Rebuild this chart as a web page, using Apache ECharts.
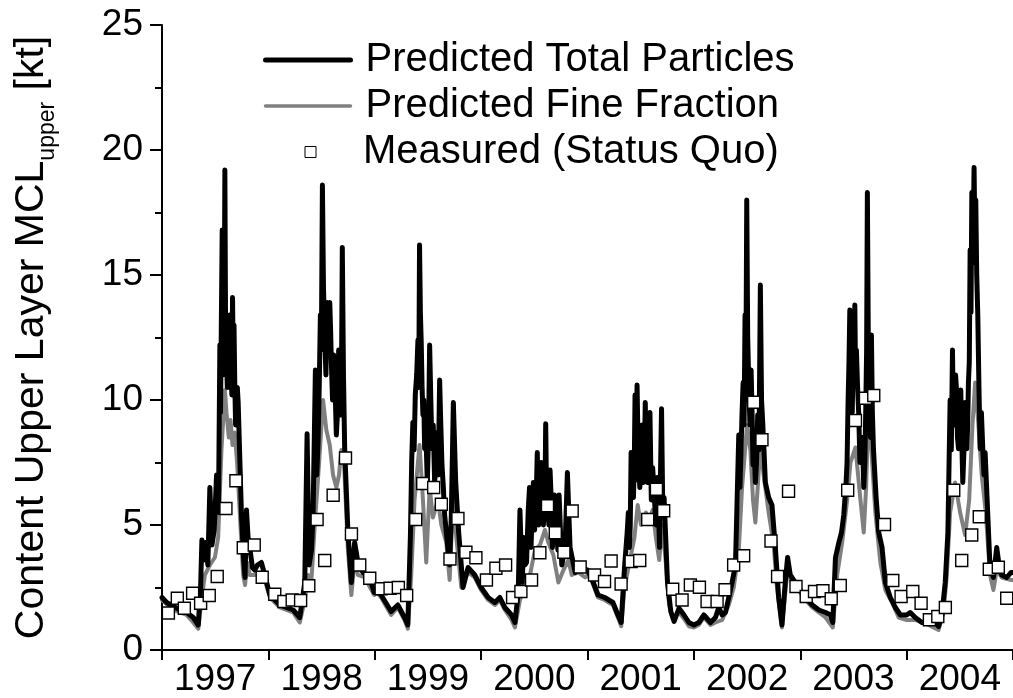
<!DOCTYPE html>
<html>
<head>
<meta charset="utf-8">
<script src="https://cdn.jsdelivr.net/npm/echarts@6/dist/echarts.min.js"></script>
<style>
html,body{margin:0;padding:0;background:#fff;}
#chart{width:1013px;height:698px;}
</style>
</head>
<body>
<div id="chart"></div>
<script>
// ---- DATA ----
var years = ['1997','1998','1999','2000','2001','2002','2003','2004'];

// Predicted Total Particles: time (decimal year) and value [kt]
var totalT = [
 1997.00,1997.044,1997.106,1997.169,1997.231,1997.294,1997.341,1997.363,1997.375,1997.394,1997.413,1997.431,1997.45,1997.469,1997.491,1997.513,1997.531,1997.544,1997.566,1997.578,1997.591,1997.606,1997.622,1997.638,1997.65,1997.663,1997.684,1997.70,1997.716,1997.747,1997.769,1997.781,1997.794,1997.809,1997.825,1997.85,1997.872,1997.897,1997.934,1997.966,
 1998.014,1998.108,1998.233,1998.295,1998.342,1998.364,1998.383,1998.405,1998.42,1998.442,1998.467,1998.489,1998.508,1998.53,1998.552,1998.577,1998.592,1998.614,1998.639,1998.661,1998.677,1998.695,1998.717,1998.748,1998.78,1998.811,1998.842,1998.889,1998.952,1998.995,
 1999.02,1999.06,1999.154,1999.217,1999.28,1999.311,1999.336,1999.358,1999.381,1999.406,1999.421,1999.437,1999.453,1999.469,1999.494,1999.516,1999.538,1999.563,1999.585,1999.61,1999.632,1999.657,1999.689,1999.704,1999.72,1999.739,1999.761,1999.789,1999.83,1999.877,1999.94,
 2000.00,2000.066,2000.129,2000.176,2000.223,2000.286,2000.318,2000.349,2000.365,2000.387,2000.412,2000.443,2000.469,2000.491,2000.513,2000.528,2000.553,2000.575,2000.594,2000.607,2000.626,2000.648,2000.67,2000.689,2000.711,2000.733,2000.758,2000.789,2000.811,2000.836,2000.884,2000.947,
 2001.00,2001.037,2001.099,2001.161,2001.239,2001.286,2001.317,2001.348,2001.373,2001.394,2001.41,2001.432,2001.447,2001.466,2001.481,2001.503,2001.525,2001.543,2001.565,2001.587,2001.612,2001.637,2001.658,2001.677,2001.696,2001.72,2001.752,2001.783,2001.814,2001.86,2001.907,2001.953,
 2002.00,2002.047,2002.094,2002.156,2002.203,2002.234,2002.266,2002.297,2002.328,2002.359,2002.391,2002.422,2002.444,2002.463,2002.481,2002.497,2002.516,2002.538,2002.556,2002.578,2002.60,2002.625,2002.647,2002.672,2002.703,2002.734,2002.766,2002.797,2002.828,2002.859,2002.881,2002.906,2002.953,
 2003.00,2003.05,2003.113,2003.175,2003.238,2003.284,2003.306,2003.331,2003.363,2003.388,2003.409,2003.431,2003.45,2003.466,2003.481,2003.497,2003.513,2003.528,2003.55,2003.572,2003.597,2003.616,2003.631,2003.65,2003.669,2003.688,2003.713,2003.738,2003.769,2003.80,2003.847,2003.894,2003.941,
 2004.00,2004.034,2004.081,2004.144,2004.206,2004.269,2004.30,2004.331,2004.363,2004.388,2004.409,2004.431,2004.45,2004.469,2004.488,2004.509,2004.528,2004.55,2004.566,2004.581,2004.597,2004.613,2004.634,2004.65,2004.669,2004.691,2004.716,2004.738,2004.763,2004.784,2004.816,2004.847,2004.869,2004.894,2004.941,2004.981,2005.0
];
var totalV = [
 2.1,1.9,1.75,1.6,1.5,1.3,1.0,2.5,4.4,3.6,4.3,3.4,6.5,4.2,4.8,7.0,5.5,12.2,16.8,12,19.2,11.8,13,13.4,11,14.1,10.7,10.0,9.9,5.4,3.5,2.9,5.6,4.5,4.1,3.3,3.2,3.4,3.5,3.0,
 2.2,1.8,1.6,1.3,2.7,8.65,3.4,4.0,5.4,11.2,8.3,13.4,18.6,12.6,13.9,13.9,11.5,11.8,8.6,12.0,9.4,16.1,8.1,4.7,2.7,4.3,3.5,3.1,2.9,2.3,
 2.4,2.2,1.54,1.8,1.3,1.0,4.7,9.1,10.2,12.4,16.2,12.3,9.4,8.05,6.7,12.2,8.05,6.7,8.7,10.8,7.4,5.4,4.0,3.4,5.4,9.9,6.7,4.7,2.5,3.3,3.0,
 2.5,2.1,1.9,2.1,1.7,1.4,1.1,2.3,5.6,2.7,3.4,5.6,4.1,6.7,5.4,7.9,6.1,6.9,5.4,9.05,6.7,7.2,4.1,6.2,4.7,6.2,3.4,4.1,7.1,4.1,3.1,3.3,
 3.2,2.9,2.2,2.1,1.9,1.4,1.1,3.3,4.7,4.1,7.9,6.1,10.2,10.6,7.4,8.7,6.7,9.9,6.7,9.5,7.3,5.4,6.9,4.1,9.65,6.1,2.7,1.54,1.14,1.67,1.4,1.1,
 1.0,1.1,1.4,1.1,1.3,1.7,1.4,1.5,2.1,2.7,3.4,8.6,8.05,10.7,13.4,18.0,10.7,11.2,7.4,6.7,9.4,14.6,9.1,6.7,6.1,5.8,4.1,2.1,1.0,2.7,3.7,3.0,2.7,
 2.4,2.1,1.8,1.6,1.5,1.4,1.1,3.7,4.3,4.7,5.4,6.7,10.0,13.6,10.7,12.0,13.8,12.0,9.4,8.05,6.5,9.65,18.3,9.65,12.6,8.05,6.1,4.7,4.1,2.7,2.1,1.7,1.4,
 1.4,1.5,1.3,1.1,1.1,1.1,0.94,1.4,2.7,4.7,10.0,12.0,9.4,10.4,8.05,10.4,6.7,9.9,8.05,10.7,16.0,18.3,19.3,18.0,13.4,8.05,8.05,7.9,5.4,3.3,2.9,4.1,3.4,3.0,2.9,3.1,3.1
];
// extra samples read in the dense flood periods (merged with the above by time)
var totalPeakT = [
 1997.55,1997.572,1997.585,1997.598,1997.614,1997.63,1997.644,1997.657,1997.67,1997.677,1997.692,1997.708,
 1998.455,1998.478,1998.498,1998.518,1998.541,1998.564,1998.585,1998.603,1998.627,1998.65,1998.669,1998.686,1998.706,
 1999.347,1999.37,1999.394,1999.414,1999.429,1999.445,1999.461,1999.482,1999.505,1999.527,1999.55,1999.574,1999.597,1999.621,1999.645,
 2000.376,2000.40,2000.427,2000.455,2000.48,2000.502,2000.52,2000.54,2000.564,2000.585,2000.60,2000.617,2000.637,2000.659,2000.68,2000.70,2000.722,
 2001.384,2001.402,2001.421,2001.44,2001.456,2001.474,2001.492,2001.514,2001.534,2001.554,2001.576,2001.60,2001.625,2001.647,2001.668,2001.686,2001.708,
 2002.433,2002.453,2002.472,2002.489,2002.506,2002.527,2002.547,2002.567,2002.589,2002.612,2002.636,2002.659,
 2003.44,2003.458,2003.474,2003.489,2003.505,2003.52,2003.539,2003.561,2003.584,2003.607,2003.624,2003.641,2003.66,2003.678,
 2004.42,2004.44,2004.46,2004.478,2004.498,2004.518,2004.539,2004.558,2004.574,2004.589,2004.605,2004.623,2004.642,2004.659,2004.68,2004.703,2004.727
];
var totalPeakV = [
 9.5,11,13,12.5,10.5,11.2,12.5,10.2,11.5,13.0,9.0,10.5,
 7.0,10.5,12.0,14.5,11.0,12.0,12.8,10.0,10.5,9.5,11.0,10.0,11.0,
 7.5,8.0,11.0,10.5,13.5,10.5,10.0,8.5,8.5,10.0,9.0,7.5,7.0,9.0,6.5,
 4.0,4.5,3.5,6.5,5.5,4.8,6.5,5.0,7.5,5.0,6.0,5.5,5.0,6.0,4.8,5.5,4.0,
 5.5,5.0,6.5,7.5,6.8,8.5,6.5,9.0,7.5,7.0,8.5,6.0,6.5,5.0,5.5,7.0,5.5,
 6.5,9.5,9.0,11.0,12.5,9.0,9.5,8.0,7.5,8.0,10.0,8.0,
 7.5,11.5,12.5,9.5,11.0,11.0,10.5,7.5,8.5,7.5,12.0,11.5,8.5,9.5,
 8.0,9.0,11.0,8.5,9.0,8.5,8.0,9.5,9.0,11.5,13.5,15.5,16.5,15.0,10.5,9.5,7.0
];

// Predicted Fine Fraction
var fineT = [
 1997.00,1997.106,1997.231,1997.294,1997.341,1997.372,1997.403,1997.45,1997.497,1997.528,1997.559,1997.591,1997.606,1997.628,1997.644,1997.663,1997.684,1997.706,1997.731,1997.763,1997.781,1997.80,1997.825,1997.872,1997.919,1997.966,
 1998.014,1998.108,1998.233,1998.295,1998.342,1998.373,1998.405,1998.436,1998.477,1998.514,1998.545,1998.577,1998.608,1998.639,1998.664,1998.686,1998.711,1998.748,1998.78,1998.811,1998.842,1998.905,1998.995,
 1999.02,1999.06,1999.154,1999.217,1999.28,1999.311,1999.343,1999.374,1999.421,1999.453,1999.484,1999.516,1999.547,1999.594,1999.626,1999.673,1999.704,1999.736,1999.767,1999.814,1999.877,1999.94,
 2000.00,2000.066,2000.129,2000.176,2000.223,2000.286,2000.318,2000.365,2000.412,2000.459,2000.506,2000.553,2000.60,2000.632,2000.679,2000.726,2000.774,2000.821,2000.852,2000.915,2000.978,
 2001.00,2001.037,2001.099,2001.161,2001.239,2001.286,2001.317,2001.348,2001.394,2001.441,2001.472,2001.503,2001.55,2001.581,2001.612,2001.643,2001.674,2001.705,2001.736,2001.767,2001.798,2001.86,2001.907,2001.953,
 2002.00,2002.047,2002.094,2002.156,2002.203,2002.266,2002.328,2002.375,2002.422,2002.453,2002.50,2002.531,2002.556,2002.578,2002.60,2002.625,2002.656,2002.703,2002.75,2002.781,2002.828,2002.859,2002.881,2002.922,
 2003.00,2003.05,2003.113,2003.175,2003.238,2003.306,2003.347,2003.394,2003.441,2003.472,2003.519,2003.566,2003.597,2003.619,2003.638,2003.669,2003.706,2003.753,2003.80,2003.863,2003.925,
 2004.00,2004.081,2004.206,2004.30,2004.347,2004.378,2004.409,2004.456,2004.503,2004.55,2004.588,2004.619,2004.644,2004.675,2004.706,2004.744,2004.784,2004.816,2004.847,2004.894,2004.981,2005.0
];
var fineV = [
 2.0,1.6,1.4,1.1,0.85,2.0,3.0,3.4,3.7,4.5,8.0,10.4,9.5,8.5,9.2,8.2,8.7,7.5,5.5,3.0,2.6,3.5,3.0,3.0,3.1,2.8,
 2.1,1.7,1.5,1.1,2.0,3.0,2.8,5.0,7.5,10.0,8.8,8.2,7.0,6.5,7.0,8.0,7.5,4.0,2.2,3.6,3.0,2.9,2.2,
 2.3,2.1,1.4,1.7,1.2,0.85,3.0,6.0,8.2,6.0,3.5,6.5,5.3,6.0,5.0,4.3,2.8,6.0,4.5,2.5,3.1,2.9,
 2.4,2.0,1.8,2.0,1.6,1.2,0.9,2.0,2.6,3.0,4.0,4.2,4.8,4.3,3.8,2.7,3.2,3.6,3.0,3.1,2.9,
 3.0,2.8,2.1,2.0,1.8,1.3,0.95,2.5,3.5,4.5,5.8,5.0,5.5,5.2,5.6,4.5,3.6,5.0,3.5,1.8,1.3,1.5,1.25,0.95,
 0.9,1.0,1.3,1.0,1.1,1.2,1.8,2.5,4.0,6.5,9.0,8.0,6.0,5.1,6.5,8.2,7.0,5.5,4.2,2.5,0.9,2.3,3.2,2.7,
 2.3,2.0,1.7,1.5,1.3,0.9,3.0,4.3,6.0,7.5,8.1,6.0,4.7,6.5,9.1,8.0,5.5,3.5,2.4,1.9,1.3,
 1.2,1.2,1.0,0.8,1.5,3.0,5.5,6.7,5.5,4.6,6.0,9.0,10.7,9.0,7.0,5.5,3.0,2.4,3.2,2.9,2.8,2.8
];

// Measured (Status Quo)
var measT = [
 1997.06,1997.144,1997.21,1997.288,1997.363,1997.444,1997.519,1997.601,1997.695,1997.764,1997.867,1997.942,
 1998.06,1998.146,1998.224,1998.303,1998.38,1998.458,1998.53,1998.609,1998.725,1998.781,1998.859,1998.953,
 1999.06,1999.144,1999.222,1999.30,1999.385,1999.451,1999.554,1999.626,1999.707,1999.782,1999.857,1999.951,
 2000.05,2000.139,2000.23,2000.296,2000.374,2000.474,2000.552,2000.624,2000.697,2000.778,2000.856,2000.931,
 2001.066,2001.16,2001.222,2001.316,2001.41,2001.491,2001.566,2001.648,2001.716,2001.801,2001.889,2001.967,
 2002.052,2002.124,2002.218,2002.293,2002.374,2002.468,2002.562,2002.64,2002.725,2002.787,2002.89,2002.96,
 2003.056,2003.134,2003.213,2003.291,2003.376,2003.446,2003.519,2003.613,2003.691,2003.792,2003.87,2003.948,
 2004.058,2004.136,2004.214,2004.293,2004.364,2004.443,2004.518,2004.612,2004.683,2004.777,2004.862,2004.941
];
var measV = [
 1.48,2.07,1.67,2.27,1.87,2.18,2.94,5.66,6.77,4.09,4.2,2.91,
 2.23,1.94,2.0,1.98,2.57,5.22,3.58,6.19,7.68,4.64,3.4,2.87,
 2.45,2.47,2.5,2.18,5.22,6.66,6.5,5.83,3.64,5.26,3.91,3.69,
 2.8,3.27,3.4,2.1,2.34,2.8,3.89,5.77,4.69,3.91,5.56,3.32,
 3.0,2.74,3.56,2.64,3.54,3.58,5.22,6.43,5.57,2.43,2.0,2.6,
 2.51,1.94,1.94,2.41,3.4,3.77,9.91,8.41,4.36,2.94,6.35,2.54,
 2.14,2.34,2.37,2.05,2.58,6.39,9.18,10.07,10.18,5.02,2.78,2.14,
 2.34,1.87,1.21,1.34,1.7,6.39,3.58,4.6,5.33,3.23,3.31,2.07
];

function pairs(t, v) { var out = []; for (var i = 0; i < t.length; i++) out.push([t[i], v[i]]); return out; }
var totalData = pairs(totalT, totalV).concat(pairs(totalPeakT, totalPeakV)).sort(function (a, b) { return a[0] - b[0]; });

var FONT = 'Liberation Sans, Arial, sans-serif';
var chart = echarts.init(document.getElementById('chart'), null, {renderer: 'canvas'});
chart.setOption({
  animation: false,
  backgroundColor: '#ffffff',
  textStyle: {fontFamily: FONT, color: '#000'},
  grid: {left: 162, right: 0, top: 25, bottom: 46, containLabel: false},
  legend: [
    {
      orient: 'vertical',
      left: 258, top: 35,
      itemWidth: 85, itemHeight: 12, itemGap: 6,
      textStyle: {fontSize: 40, fontFamily: FONT, color: '#000', padding: [0, 0, 0, 10]},
      data: [
        {name: 'Predicted Total Particles', itemStyle: {opacity: 0}, lineStyle: {width: 5, color: '#000'}},
        {name: 'Predicted Fine Fraction', itemStyle: {opacity: 0}, lineStyle: {width: 3.5, color: '#808080'}}
      ]
    },
    {
      orient: 'vertical',
      left: 299.5, top: 127,
      itemWidth: 11, itemHeight: 11,
      textStyle: {fontSize: 40, fontFamily: FONT, color: '#000', padding: [0, 0, 0, 42]},
      data: [{name: 'Measured (Status Quo)', icon: 'rect', itemStyle: {borderWidth: 1}}]
    }
  ],
  xAxis: [
    {type: 'value', min: 1997, max: 2005, position: 'top', show: false},
    {type: 'category', data: years, position: 'bottom', boundaryGap: true,
     axisLine: {show: true, lineStyle: {color: '#000', width: 2}},
     axisTick: {show: true, interval: 0, alignWithLabel: false, length: 10, lineStyle: {color: '#000', width: 2}},
     axisLabel: {interval: 0, fontSize: 37, fontFamily: FONT, color: '#000', margin: 11},
     splitLine: {show: false}}
  ],
  yAxis: {
    type: 'value', min: 0, max: 25, interval: 5,
    name: '{a|Content Upper Layer MCL}{b|upper}{a| [kt]}',
    nameLocation: 'middle', nameRotate: 90, nameGap: 110,
    nameTextStyle: {
      rich: {
        a: {fontSize: 41, fontFamily: FONT, color: '#000', lineHeight: 41, verticalAlign: 'top'},
        b: {fontSize: 23, fontFamily: FONT, color: '#000', lineHeight: 24, verticalAlign: 'top', padding: [25, 0, 0, 0]}
      }
    },
    axisLine: {show: true, lineStyle: {color: '#000', width: 2}},
    axisTick: {show: true, length: 12, lineStyle: {color: '#000', width: 2}},
    minorTick: {show: true, splitNumber: 2, length: 7, lineStyle: {color: '#000', width: 2}},
    axisLabel: {fontSize: 37, fontFamily: FONT, color: '#000', margin: 19},
    splitLine: {show: false},
    minorSplitLine: {show: false}
  },
  series: [
    {name: 'Predicted Fine Fraction', type: 'line', xAxisIndex: 0, data: pairs(fineT, fineV),
     symbol: 'none', showSymbol: false, color: '#808080',
     lineStyle: {color: '#808080', width: 4, join: 'round', cap: 'round'}, z: 2},
    {name: 'Predicted Total Particles', type: 'line', xAxisIndex: 0, data: totalData,
     symbol: 'none', showSymbol: false, color: '#000',
     lineStyle: {color: '#000', width: 5, join: 'round', cap: 'round'}, z: 3},
    {name: 'Measured (Status Quo)', type: 'scatter', xAxisIndex: 0, data: pairs(measT, measV),
     symbol: 'rect', symbolSize: 12,
     itemStyle: {color: '#fff', borderColor: '#000', borderWidth: 1.4, opacity: 1}, z: 4}
  ]
});
</script>
</body>
</html>
